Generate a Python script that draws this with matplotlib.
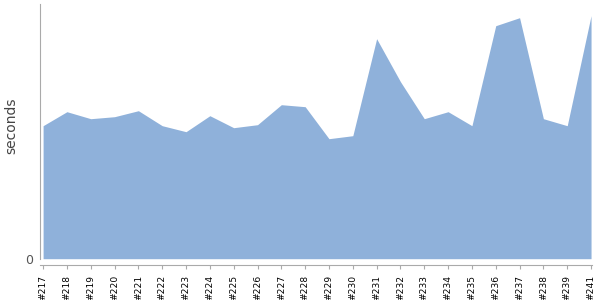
import numpy as np
import matplotlib
matplotlib.use('Agg')
import matplotlib.pyplot as plt

# build numbers and their durations (seconds)
builds = ['#217', '#218', '#219', '#220', '#221', '#222', '#223', '#224',
          '#225', '#226', '#227', '#228', '#229', '#230', '#231', '#232',
          '#233', '#234', '#235', '#236', '#237', '#238', '#239', '#241']
durations = [13.3, 14.7, 14.0, 14.2, 14.8, 13.3, 12.7, 14.3,
             13.1, 13.4, 15.4, 15.2, 12.0, 12.3, 22.0, 17.7,
             14.0, 14.7, 13.3, 23.3, 24.1, 14.0, 13.3, 24.3]

x = np.arange(len(builds))

fig = plt.figure(figsize=(6, 3), dpi=100)
ax = fig.add_axes([40/600, 1 - 258.7/300, 552/600, 254.7/300])

ax.fill_between(x, 0, durations, color='#8fb1da', linewidth=0)

for s in ['top', 'right']:
    ax.spines[s].set_visible(False)
ax.spines['left'].set_color('#aaaaaa')
ax.spines['bottom'].set_color('#aaaaaa')
ax.spines['bottom'].set_position(('outward', 4.5))

ax.set_xlim(-0.13, len(builds) - 1 + 0.04)
ax.set_ylim(0, 25.47)

ax.set_xticks(x)
ax.set_xticklabels(builds, fontsize=6.6, color='black')
ax.set_yticks([0])
ax.set_yticklabels(['0'], fontsize=9, color='#555555')
ax.tick_params(axis='y', length=0, pad=5)
ax.tick_params(axis='x', length=3, color='#aaaaaa', pad=4, labelrotation=90)

ax.set_ylabel('seconds', fontsize=10, color='#444444')
ax.yaxis.set_label_coords(-0.04, 0.523)

fig.savefig('out.png')
